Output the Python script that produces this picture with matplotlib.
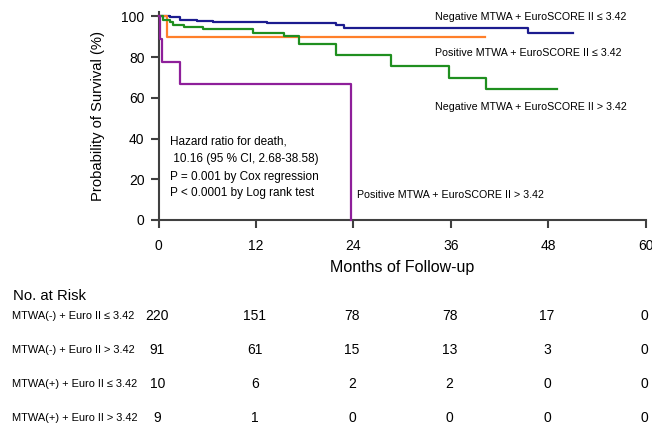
import matplotlib
matplotlib.use('agg')
import matplotlib.pyplot as plt

plt.rcParams['font.family'] = ['Liberation Sans', 'DejaVu Sans']

# Kaplan-Meier steps (months, survival %)
neg_low_t = [0, 1.4, 2.65, 4.7, 6.7, 13.4, 21.8, 22.9, 45.5, 51.0]
neg_low_s = [100, 99.5, 98.5, 98.0, 97.4, 96.7, 95.7, 94.2, 91.8, 91.8]
pos_low_t = [0, 1.1, 40.2]
pos_low_s = [100, 90.0, 90.0]
neg_high_t = [0, 0.6, 1.4, 1.8, 3.1, 5.5, 11.6, 15.5, 17.3, 21.8, 28.6, 35.8, 40.3, 49.1]
neg_high_s = [100, 98.5, 97.4, 96.0, 94.9, 93.6, 92.0, 90.3, 86.5, 81.0, 75.5, 69.8, 64.4, 64.4]
pos_high_t = [0, 0.15, 0.4, 2.6, 23.7]
pos_high_s = [100, 88.9, 77.8, 66.7, 0]

curve_labels = ['Negative MTWA + EuroSCORE II \u2264 3.42',
                'Positive MTWA + EuroSCORE II \u2264 3.42',
                'Negative MTWA + EuroSCORE II > 3.42',
                'Positive MTWA + EuroSCORE II > 3.42']
colors = ['#1c1c8f', '#ff7f2a', '#1f8f1f', '#8e1f9a']

risk_times = [0, 12, 24, 36, 48, 60]
risk_labels = ['MTWA(-) + Euro II \u2264 3.42', 'MTWA(-) + Euro II > 3.42',
               'MTWA(+) + Euro II \u2264 3.42', 'MTWA(+) + Euro II > 3.42']
risk_neg_low = [220, 151, 78, 78, 17, 0]
risk_neg_high = [91, 61, 15, 13, 3, 0]
risk_pos_low = [10, 6, 2, 2, 0, 0]
risk_pos_high = [9, 1, 0, 0, 0, 0]

stats_lines = ['Hazard ratio for death,', ' 10.16 (95 % CI, 2.68-38.58)',
               'P = 0.001 by Cox regression', 'P < 0.0001 by Log rank test']


def main():
    W, H = 652, 429
    fig = plt.figure(figsize=(W / 100, H / 100), dpi=100)
    # axes in pixel coords: x0=158.5, x60=645.7, y0=220, y102=12.4
    ax = fig.add_axes([158.5 / W, 1 - 220 / H, (645.7 - 158.5) / W, (220 - 12.4) / H])

    series = [(neg_low_t, neg_low_s), (pos_low_t, pos_low_s),
              (neg_high_t, neg_high_s), (pos_high_t, pos_high_s)]
    for (t, s), c in zip(series, colors):
        ax.step(t, s, where='post', color=c, lw=1.6, clip_on=False, zorder=3)

    ax.set_xlim(0, 60)
    ax.set_ylim(0, 102)
    ax.set_xticks(risk_times)
    ax.set_yticks([0, 20, 40, 60, 80, 100])
    for side in ['top', 'right']:
        ax.spines[side].set_visible(False)
    for side in ['left', 'bottom']:
        ax.spines[side].set_color('#404040')
        ax.spines[side].set_linewidth(1.5)
    ax.tick_params(direction='out', length=6, width=1.5, color='#404040',
                   labelsize=10, pad=4)
    ax.tick_params(axis='x', pad=8)
    ax.set_xlabel('Months of Follow-up', fontsize=11.5, labelpad=5)
    ax.set_ylabel('Probability of Survival (%)', fontsize=10.6, labelpad=12)

    # curve labels
    fs = 7.7
    ax.text(34.0, 99.5, curve_labels[0], fontsize=fs, va='center')
    ax.text(34.1, 82.0, curve_labels[1], fontsize=fs, va='center')
    ax.text(34.0, 55.5, curve_labels[2], fontsize=fs, va='center')
    ax.text(24.4, 12.5, curve_labels[3], fontsize=fs, va='center')

    # stats text
    ys = [38.5, 29.8, 21.3, 13.1]
    for line, y in zip(stats_lines, ys):
        ax.text(1.4, y, line, fontsize=8.5, va='center')

    # risk table
    fig.text(13 / W, 1 - 296 / H, 'No. at Risk', fontsize=10.7, va='center')
    rows = [risk_neg_low, risk_neg_high, risk_pos_low, risk_pos_high]
    row_y = [316, 350, 384, 418]
    for lab, vals, ypx in zip(risk_labels, rows, row_y):
        yf = 1 - ypx / H
        fig.text(12 / W, yf, lab, fontsize=7.9, va='center')
        for t, v in zip(risk_times, vals):
            xd = t - 0.15
            xf = fig.transFigure.inverted().transform(
                ax.transData.transform((xd, 0)))[0]
            fig.text(xf, yf, str(v), fontsize=10, ha='center', va='center')

    fig.savefig('out.png', dpi=100)


if __name__ == '__main__':
    main()
